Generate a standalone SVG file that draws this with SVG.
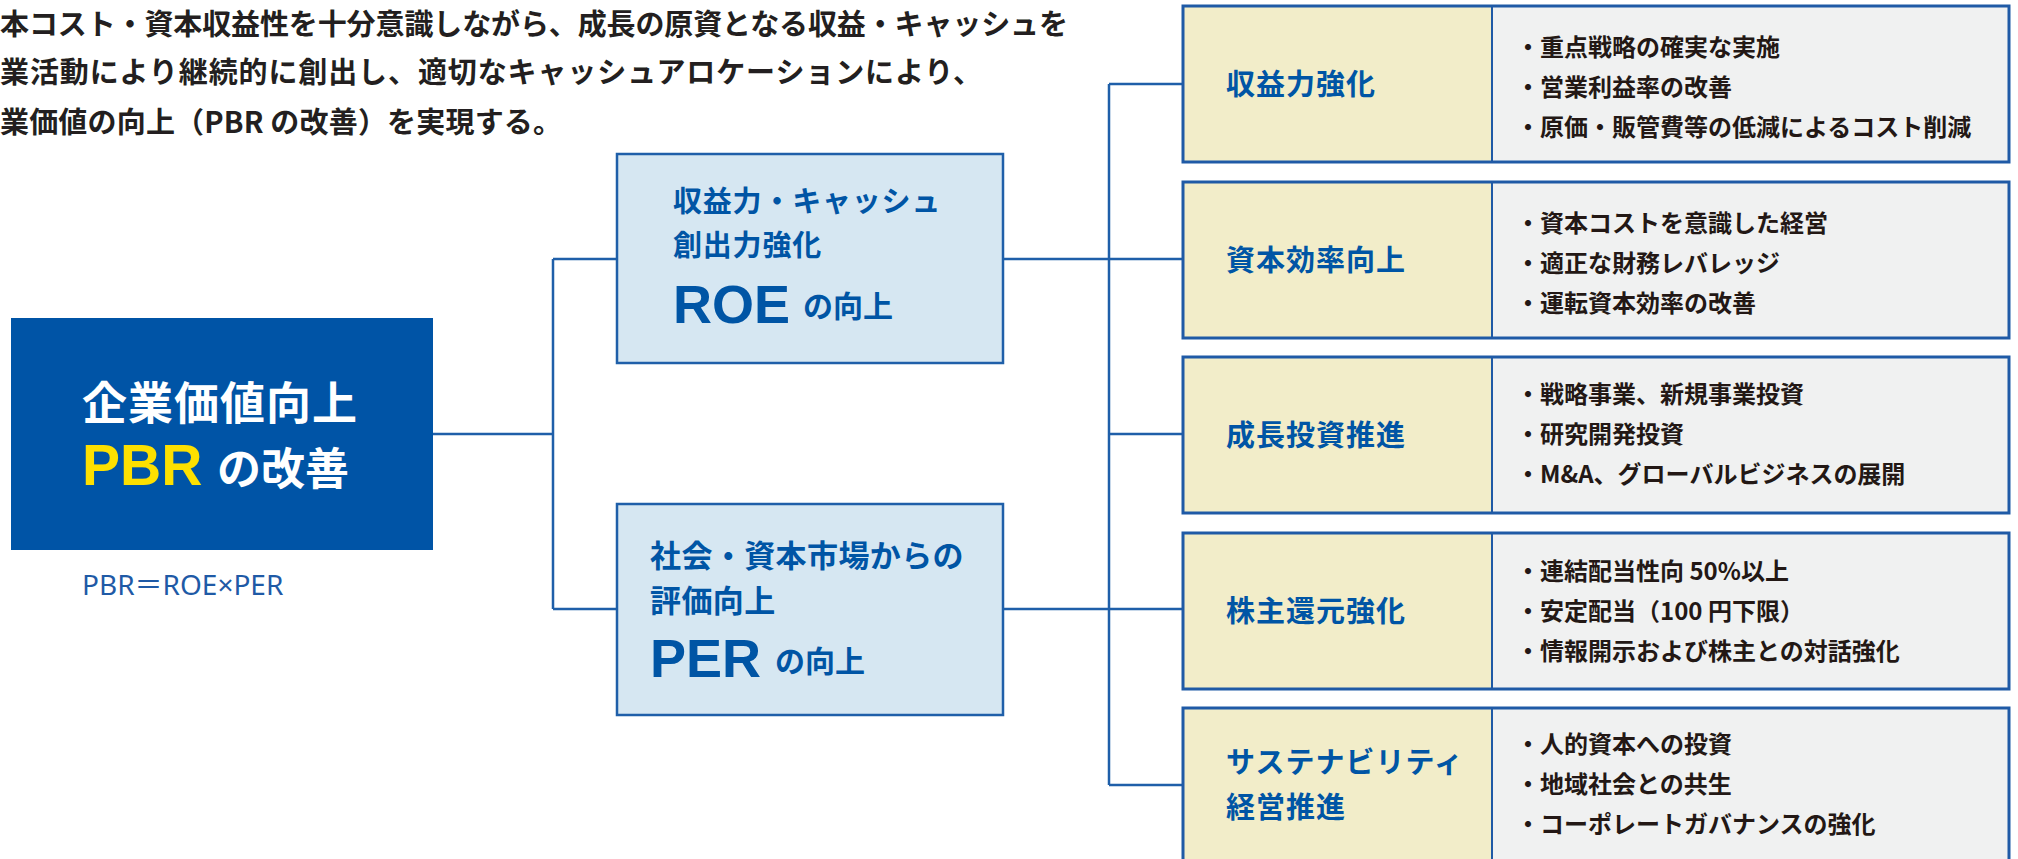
<svg xmlns="http://www.w3.org/2000/svg" width="2018" height="859" viewBox="0 0 2018 859">
<style>
.jp{font-family:"Noto Sans CJK JP","Noto Sans",sans-serif;font-weight:700}
.lat{font-family:"Liberation Sans",Arial,sans-serif;font-weight:700}
.intro{fill:#231f20;font-size:29px}
.blue{fill:#0055a5}
.white{fill:#ffffff}
.yellow{fill:#fde000}
.mid{fill:#d6e7f2;stroke:#1f5fa9;stroke-width:2.5}
.lab{fill:#f2edc9}
.det{fill:#f0f1f1}
.frame{fill:none;stroke:#1f5aa6;stroke-width:3}
.div{stroke:#1f5aa6;stroke-width:2}
.conn{fill:none;stroke:#1f5fa9;stroke-width:2.5}
.labt{font-size:29px;letter-spacing:1px}
.bul{fill:#231815;font-size:24px}
</style>

<g id="intro">
<text class="jp intro" x="0" y="35" textLength="1068" lengthAdjust="spacing">本コスト・資本収益性を十分意識しながら、成長の原資となる収益・キャッシュを</text>
<text class="jp intro" x="0" y="83" textLength="982" lengthAdjust="spacing">業活動により継続的に創出し、適切なキャッシュアロケーションにより、</text>
<text class="jp intro" x="0" y="133" textLength="562" lengthAdjust="spacing">業価値の向上（PBR の改善）を実現する。</text>
</g>

<g id="connectors">
<path class="conn" d="M433 434 H553 M553 259 V609 M553 259 H617 M553 609 H617"/>
<path class="conn" d="M1003 259 H1109 M1003 609 H1109 M1109 84 V785 M1109 84 H1183 M1109 259 H1183 M1109 434 H1183 M1109 609 H1183 M1109 785 H1183"/>
</g>

<g id="node-main">
<rect x="11" y="318" width="422" height="232" fill="#0054a6"/>
<text class="jp white" x="82" y="420" font-size="45" letter-spacing="1">企業価値向上</text>
<text class="lat yellow" x="82" y="485" font-size="57">PBR</text>
<text class="jp white" x="217" y="485" font-size="44">の改善</text>
<text x="82" y="595" font-family="Noto Sans, Noto Sans CJK JP, sans-serif" font-size="28" fill="#1f5aa6">PBR＝ROE×PER</text>
</g>

<g id="node-roe">
<rect class="mid" x="617" y="154" width="386" height="209"/>
<text class="jp blue" x="673" y="212" font-size="29" letter-spacing="0.8">収益力・キャッシュ</text>
<text class="jp blue" x="673" y="256" font-size="29" letter-spacing="0.8">創出力強化</text>
<text class="lat blue" x="673" y="323" font-size="54">ROE</text>
<text class="jp blue" x="803" y="317" font-size="30">の向上</text>
</g>

<g id="node-per">
<rect class="mid" x="617" y="504" width="386" height="211"/>
<text class="jp blue" x="650" y="567" font-size="31" letter-spacing="0.4">社会・資本市場からの</text>
<text class="jp blue" x="650" y="612" font-size="31" letter-spacing="0.4">評価向上</text>
<text class="lat blue" x="650" y="677" font-size="54">PER</text>
<text class="jp blue" x="775" y="672" font-size="30">の向上</text>
</g>

<g id="node-1">
<rect class="lab" x="1183" y="6" width="309" height="156"/>
<rect class="det" x="1492" y="6" width="517" height="156"/>
<rect class="frame" x="1183" y="6" width="826" height="156"/>
<line class="div" x1="1492" y1="6" x2="1492" y2="162"/>
<text class="jp blue labt" x="1226" y="95">収益力強化</text>
<text class="jp bul" x="1516" y="56">・重点戦略の確実な実施</text>
<text class="jp bul" x="1516" y="96">・営業利益率の改善</text>
<text class="jp bul" x="1516" y="136">・原価・販管費等の低減によるコスト削減</text>
</g>

<g id="node-2">
<rect class="lab" x="1183" y="182" width="309" height="156"/>
<rect class="det" x="1492" y="182" width="517" height="156"/>
<rect class="frame" x="1183" y="182" width="826" height="156"/>
<line class="div" x1="1492" y1="182" x2="1492" y2="338"/>
<text class="jp blue labt" x="1226" y="271">資本効率向上</text>
<text class="jp bul" x="1516" y="232">・資本コストを意識した経営</text>
<text class="jp bul" x="1516" y="272">・適正な財務レバレッジ</text>
<text class="jp bul" x="1516" y="312">・運転資本効率の改善</text>
</g>

<g id="node-3">
<rect class="lab" x="1183" y="357" width="309" height="156"/>
<rect class="det" x="1492" y="357" width="517" height="156"/>
<rect class="frame" x="1183" y="357" width="826" height="156"/>
<line class="div" x1="1492" y1="357" x2="1492" y2="513"/>
<text class="jp blue labt" x="1226" y="446">成長投資推進</text>
<text class="jp bul" x="1516" y="403">・戦略事業、新規事業投資</text>
<text class="jp bul" x="1516" y="443">・研究開発投資</text>
<text class="jp bul" x="1516" y="483">・M&amp;A、グローバルビジネスの展開</text>
</g>

<g id="node-4">
<rect class="lab" x="1183" y="533" width="309" height="156"/>
<rect class="det" x="1492" y="533" width="517" height="156"/>
<rect class="frame" x="1183" y="533" width="826" height="156"/>
<line class="div" x1="1492" y1="533" x2="1492" y2="689"/>
<text class="jp blue labt" x="1226" y="622">株主還元強化</text>
<text class="jp bul" x="1516" y="580">・連結配当性向 50%以上</text>
<text class="jp bul" x="1516" y="620">・安定配当（100 円下限）</text>
<text class="jp bul" x="1516" y="660">・情報開示および株主との対話強化</text>
</g>

<g id="node-5">
<rect class="lab" x="1183" y="708" width="309" height="160"/>
<rect class="det" x="1492" y="708" width="517" height="160"/>
<rect class="frame" x="1183" y="708" width="826" height="160"/>
<line class="div" x1="1492" y1="708" x2="1492" y2="868"/>
<text class="jp blue labt" x="1226" y="773">サステナビリティ</text>
<text class="jp blue labt" x="1226" y="818">経営推進</text>
<text class="jp bul" x="1516" y="753">・人的資本への投資</text>
<text class="jp bul" x="1516" y="793">・地域社会との共生</text>
<text class="jp bul" x="1516" y="833">・コーポレートガバナンスの強化</text>
</g>
</svg>
